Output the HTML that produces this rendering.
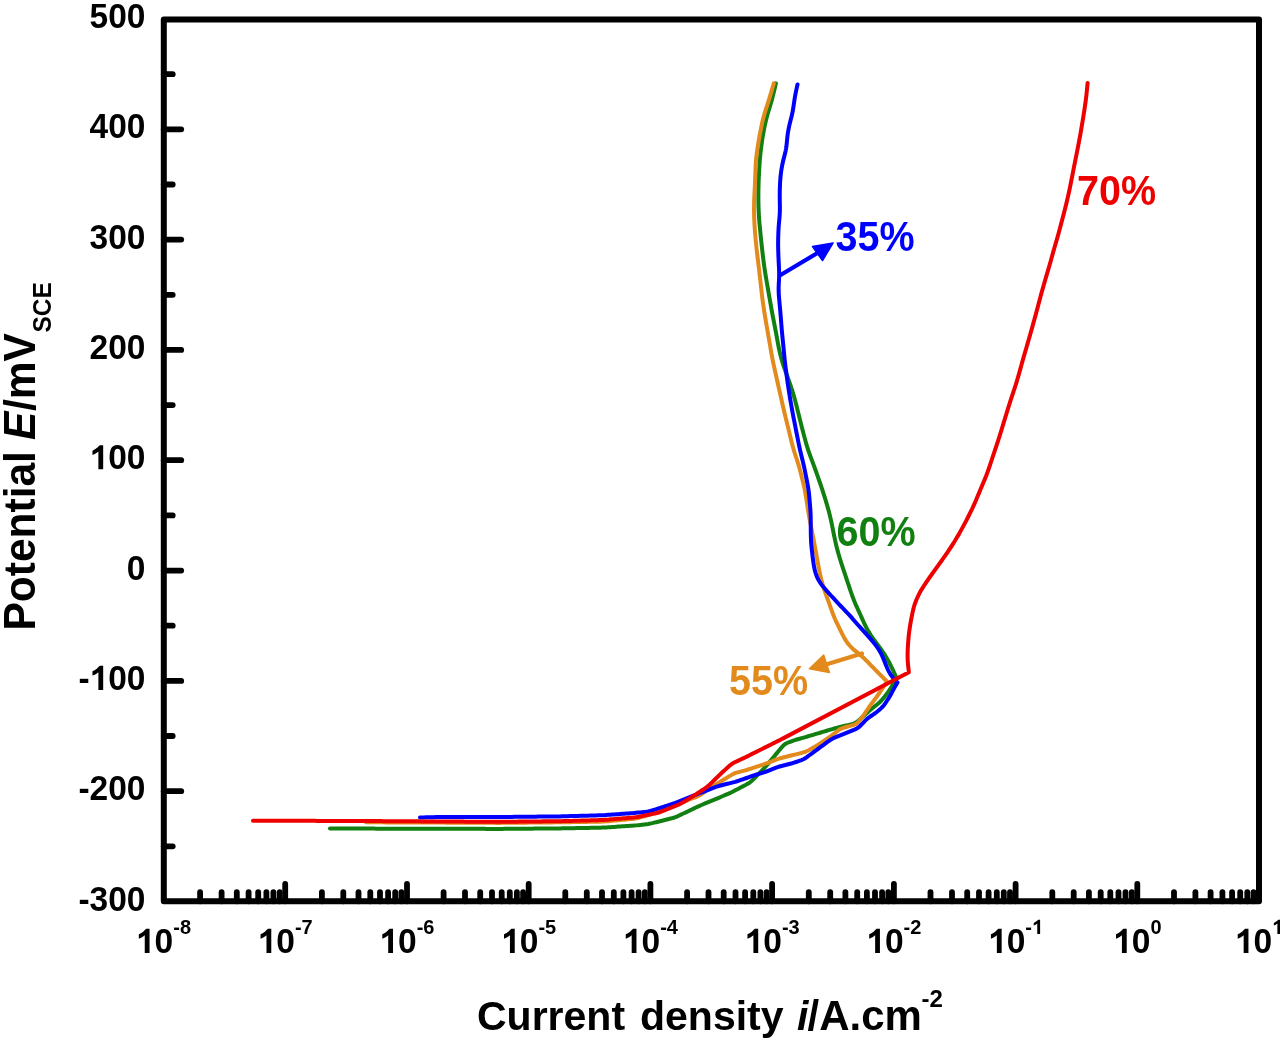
<!DOCTYPE html>
<html><head><meta charset="utf-8"><style>
html,body{margin:0;padding:0;background:#fff;}
svg{display:block;filter:blur(0.45px);}
text{font-family:"Liberation Sans",sans-serif;font-weight:bold;}
.tl{font-size:33.5px;fill:#000;}
.sup{font-size:20px;}
.ti{font-size:41px;fill:#000;}
.ti2{font-size:42.5px;fill:#000;}
.sup2{font-size:20px;}
.sub{font-size:24.5px;}
.cl{font-size:39.5px;}
</style></head><body>
<svg width="1280" height="1042" viewBox="0 0 1280 1042">
<rect width="1280" height="1042" fill="#fff"/>
<rect x="163.8" y="19.5" width="1095.2" height="881.8" fill="none" stroke="#000" stroke-width="6" stroke-linejoin="round"/>
<line x1="163.8" y1="846.3" x2="172.70000000000002" y2="846.3" stroke="#000" stroke-width="5.8" stroke-linecap="round"/>
<line x1="163.8" y1="791.2" x2="181.20000000000002" y2="791.2" stroke="#000" stroke-width="5.8" stroke-linecap="round"/>
<line x1="163.8" y1="736.0" x2="172.70000000000002" y2="736.0" stroke="#000" stroke-width="5.8" stroke-linecap="round"/>
<line x1="163.8" y1="680.9" x2="181.20000000000002" y2="680.9" stroke="#000" stroke-width="5.8" stroke-linecap="round"/>
<line x1="163.8" y1="625.7" x2="172.70000000000002" y2="625.7" stroke="#000" stroke-width="5.8" stroke-linecap="round"/>
<line x1="163.8" y1="570.6" x2="181.20000000000002" y2="570.6" stroke="#000" stroke-width="5.8" stroke-linecap="round"/>
<line x1="163.8" y1="515.4" x2="172.70000000000002" y2="515.4" stroke="#000" stroke-width="5.8" stroke-linecap="round"/>
<line x1="163.8" y1="460.2" x2="181.20000000000002" y2="460.2" stroke="#000" stroke-width="5.8" stroke-linecap="round"/>
<line x1="163.8" y1="405.1" x2="172.70000000000002" y2="405.1" stroke="#000" stroke-width="5.8" stroke-linecap="round"/>
<line x1="163.8" y1="349.9" x2="181.20000000000002" y2="349.9" stroke="#000" stroke-width="5.8" stroke-linecap="round"/>
<line x1="163.8" y1="294.8" x2="172.70000000000002" y2="294.8" stroke="#000" stroke-width="5.8" stroke-linecap="round"/>
<line x1="163.8" y1="239.6" x2="181.20000000000002" y2="239.6" stroke="#000" stroke-width="5.8" stroke-linecap="round"/>
<line x1="163.8" y1="184.5" x2="172.70000000000002" y2="184.5" stroke="#000" stroke-width="5.8" stroke-linecap="round"/>
<line x1="163.8" y1="129.3" x2="181.20000000000002" y2="129.3" stroke="#000" stroke-width="5.8" stroke-linecap="round"/>
<line x1="163.8" y1="74.2" x2="172.70000000000002" y2="74.2" stroke="#000" stroke-width="5.8" stroke-linecap="round"/>
<line x1="200.1" y1="901.3" x2="200.1" y2="892.1999999999999" stroke="#000" stroke-width="5.8" stroke-linecap="round"/>
<line x1="221.6" y1="901.3" x2="221.6" y2="892.1999999999999" stroke="#000" stroke-width="5.8" stroke-linecap="round"/>
<line x1="236.8" y1="901.3" x2="236.8" y2="892.1999999999999" stroke="#000" stroke-width="5.8" stroke-linecap="round"/>
<line x1="248.6" y1="901.3" x2="248.6" y2="892.1999999999999" stroke="#000" stroke-width="5.8" stroke-linecap="round"/>
<line x1="258.2" y1="901.3" x2="258.2" y2="892.1999999999999" stroke="#000" stroke-width="5.8" stroke-linecap="round"/>
<line x1="266.4" y1="901.3" x2="266.4" y2="892.1999999999999" stroke="#000" stroke-width="5.8" stroke-linecap="round"/>
<line x1="273.4" y1="901.3" x2="273.4" y2="892.1999999999999" stroke="#000" stroke-width="5.8" stroke-linecap="round"/>
<line x1="279.7" y1="901.3" x2="279.7" y2="892.1999999999999" stroke="#000" stroke-width="5.8" stroke-linecap="round"/>
<line x1="285.2" y1="901.3" x2="285.2" y2="883.9" stroke="#000" stroke-width="5.8" stroke-linecap="round"/>
<line x1="321.9" y1="901.3" x2="321.9" y2="892.1999999999999" stroke="#000" stroke-width="5.8" stroke-linecap="round"/>
<line x1="343.3" y1="901.3" x2="343.3" y2="892.1999999999999" stroke="#000" stroke-width="5.8" stroke-linecap="round"/>
<line x1="358.5" y1="901.3" x2="358.5" y2="892.1999999999999" stroke="#000" stroke-width="5.8" stroke-linecap="round"/>
<line x1="370.3" y1="901.3" x2="370.3" y2="892.1999999999999" stroke="#000" stroke-width="5.8" stroke-linecap="round"/>
<line x1="380.0" y1="901.3" x2="380.0" y2="892.1999999999999" stroke="#000" stroke-width="5.8" stroke-linecap="round"/>
<line x1="388.1" y1="901.3" x2="388.1" y2="892.1999999999999" stroke="#000" stroke-width="5.8" stroke-linecap="round"/>
<line x1="395.2" y1="901.3" x2="395.2" y2="892.1999999999999" stroke="#000" stroke-width="5.8" stroke-linecap="round"/>
<line x1="401.4" y1="901.3" x2="401.4" y2="892.1999999999999" stroke="#000" stroke-width="5.8" stroke-linecap="round"/>
<line x1="407.0" y1="901.3" x2="407.0" y2="883.9" stroke="#000" stroke-width="5.8" stroke-linecap="round"/>
<line x1="443.6" y1="901.3" x2="443.6" y2="892.1999999999999" stroke="#000" stroke-width="5.8" stroke-linecap="round"/>
<line x1="465.0" y1="901.3" x2="465.0" y2="892.1999999999999" stroke="#000" stroke-width="5.8" stroke-linecap="round"/>
<line x1="480.2" y1="901.3" x2="480.2" y2="892.1999999999999" stroke="#000" stroke-width="5.8" stroke-linecap="round"/>
<line x1="492.0" y1="901.3" x2="492.0" y2="892.1999999999999" stroke="#000" stroke-width="5.8" stroke-linecap="round"/>
<line x1="501.7" y1="901.3" x2="501.7" y2="892.1999999999999" stroke="#000" stroke-width="5.8" stroke-linecap="round"/>
<line x1="509.8" y1="901.3" x2="509.8" y2="892.1999999999999" stroke="#000" stroke-width="5.8" stroke-linecap="round"/>
<line x1="516.9" y1="901.3" x2="516.9" y2="892.1999999999999" stroke="#000" stroke-width="5.8" stroke-linecap="round"/>
<line x1="523.1" y1="901.3" x2="523.1" y2="892.1999999999999" stroke="#000" stroke-width="5.8" stroke-linecap="round"/>
<line x1="528.7" y1="901.3" x2="528.7" y2="883.9" stroke="#000" stroke-width="5.8" stroke-linecap="round"/>
<line x1="565.3" y1="901.3" x2="565.3" y2="892.1999999999999" stroke="#000" stroke-width="5.8" stroke-linecap="round"/>
<line x1="586.8" y1="901.3" x2="586.8" y2="892.1999999999999" stroke="#000" stroke-width="5.8" stroke-linecap="round"/>
<line x1="602.0" y1="901.3" x2="602.0" y2="892.1999999999999" stroke="#000" stroke-width="5.8" stroke-linecap="round"/>
<line x1="613.8" y1="901.3" x2="613.8" y2="892.1999999999999" stroke="#000" stroke-width="5.8" stroke-linecap="round"/>
<line x1="623.4" y1="901.3" x2="623.4" y2="892.1999999999999" stroke="#000" stroke-width="5.8" stroke-linecap="round"/>
<line x1="631.6" y1="901.3" x2="631.6" y2="892.1999999999999" stroke="#000" stroke-width="5.8" stroke-linecap="round"/>
<line x1="638.6" y1="901.3" x2="638.6" y2="892.1999999999999" stroke="#000" stroke-width="5.8" stroke-linecap="round"/>
<line x1="644.8" y1="901.3" x2="644.8" y2="892.1999999999999" stroke="#000" stroke-width="5.8" stroke-linecap="round"/>
<line x1="650.4" y1="901.3" x2="650.4" y2="883.9" stroke="#000" stroke-width="5.8" stroke-linecap="round"/>
<line x1="687.1" y1="901.3" x2="687.1" y2="892.1999999999999" stroke="#000" stroke-width="5.8" stroke-linecap="round"/>
<line x1="708.5" y1="901.3" x2="708.5" y2="892.1999999999999" stroke="#000" stroke-width="5.8" stroke-linecap="round"/>
<line x1="723.7" y1="901.3" x2="723.7" y2="892.1999999999999" stroke="#000" stroke-width="5.8" stroke-linecap="round"/>
<line x1="735.5" y1="901.3" x2="735.5" y2="892.1999999999999" stroke="#000" stroke-width="5.8" stroke-linecap="round"/>
<line x1="745.1" y1="901.3" x2="745.1" y2="892.1999999999999" stroke="#000" stroke-width="5.8" stroke-linecap="round"/>
<line x1="753.3" y1="901.3" x2="753.3" y2="892.1999999999999" stroke="#000" stroke-width="5.8" stroke-linecap="round"/>
<line x1="760.4" y1="901.3" x2="760.4" y2="892.1999999999999" stroke="#000" stroke-width="5.8" stroke-linecap="round"/>
<line x1="766.6" y1="901.3" x2="766.6" y2="892.1999999999999" stroke="#000" stroke-width="5.8" stroke-linecap="round"/>
<line x1="772.1" y1="901.3" x2="772.1" y2="883.9" stroke="#000" stroke-width="5.8" stroke-linecap="round"/>
<line x1="808.8" y1="901.3" x2="808.8" y2="892.1999999999999" stroke="#000" stroke-width="5.8" stroke-linecap="round"/>
<line x1="830.2" y1="901.3" x2="830.2" y2="892.1999999999999" stroke="#000" stroke-width="5.8" stroke-linecap="round"/>
<line x1="845.4" y1="901.3" x2="845.4" y2="892.1999999999999" stroke="#000" stroke-width="5.8" stroke-linecap="round"/>
<line x1="857.2" y1="901.3" x2="857.2" y2="892.1999999999999" stroke="#000" stroke-width="5.8" stroke-linecap="round"/>
<line x1="866.9" y1="901.3" x2="866.9" y2="892.1999999999999" stroke="#000" stroke-width="5.8" stroke-linecap="round"/>
<line x1="875.0" y1="901.3" x2="875.0" y2="892.1999999999999" stroke="#000" stroke-width="5.8" stroke-linecap="round"/>
<line x1="882.1" y1="901.3" x2="882.1" y2="892.1999999999999" stroke="#000" stroke-width="5.8" stroke-linecap="round"/>
<line x1="888.3" y1="901.3" x2="888.3" y2="892.1999999999999" stroke="#000" stroke-width="5.8" stroke-linecap="round"/>
<line x1="893.9" y1="901.3" x2="893.9" y2="883.9" stroke="#000" stroke-width="5.8" stroke-linecap="round"/>
<line x1="930.5" y1="901.3" x2="930.5" y2="892.1999999999999" stroke="#000" stroke-width="5.8" stroke-linecap="round"/>
<line x1="952.0" y1="901.3" x2="952.0" y2="892.1999999999999" stroke="#000" stroke-width="5.8" stroke-linecap="round"/>
<line x1="967.2" y1="901.3" x2="967.2" y2="892.1999999999999" stroke="#000" stroke-width="5.8" stroke-linecap="round"/>
<line x1="979.0" y1="901.3" x2="979.0" y2="892.1999999999999" stroke="#000" stroke-width="5.8" stroke-linecap="round"/>
<line x1="988.6" y1="901.3" x2="988.6" y2="892.1999999999999" stroke="#000" stroke-width="5.8" stroke-linecap="round"/>
<line x1="996.8" y1="901.3" x2="996.8" y2="892.1999999999999" stroke="#000" stroke-width="5.8" stroke-linecap="round"/>
<line x1="1003.8" y1="901.3" x2="1003.8" y2="892.1999999999999" stroke="#000" stroke-width="5.8" stroke-linecap="round"/>
<line x1="1010.0" y1="901.3" x2="1010.0" y2="892.1999999999999" stroke="#000" stroke-width="5.8" stroke-linecap="round"/>
<line x1="1015.6" y1="901.3" x2="1015.6" y2="883.9" stroke="#000" stroke-width="5.8" stroke-linecap="round"/>
<line x1="1052.3" y1="901.3" x2="1052.3" y2="892.1999999999999" stroke="#000" stroke-width="5.8" stroke-linecap="round"/>
<line x1="1073.7" y1="901.3" x2="1073.7" y2="892.1999999999999" stroke="#000" stroke-width="5.8" stroke-linecap="round"/>
<line x1="1088.9" y1="901.3" x2="1088.9" y2="892.1999999999999" stroke="#000" stroke-width="5.8" stroke-linecap="round"/>
<line x1="1100.7" y1="901.3" x2="1100.7" y2="892.1999999999999" stroke="#000" stroke-width="5.8" stroke-linecap="round"/>
<line x1="1110.3" y1="901.3" x2="1110.3" y2="892.1999999999999" stroke="#000" stroke-width="5.8" stroke-linecap="round"/>
<line x1="1118.5" y1="901.3" x2="1118.5" y2="892.1999999999999" stroke="#000" stroke-width="5.8" stroke-linecap="round"/>
<line x1="1125.5" y1="901.3" x2="1125.5" y2="892.1999999999999" stroke="#000" stroke-width="5.8" stroke-linecap="round"/>
<line x1="1131.8" y1="901.3" x2="1131.8" y2="892.1999999999999" stroke="#000" stroke-width="5.8" stroke-linecap="round"/>
<line x1="1137.3" y1="901.3" x2="1137.3" y2="883.9" stroke="#000" stroke-width="5.8" stroke-linecap="round"/>
<line x1="1174.0" y1="901.3" x2="1174.0" y2="892.1999999999999" stroke="#000" stroke-width="5.8" stroke-linecap="round"/>
<line x1="1195.4" y1="901.3" x2="1195.4" y2="892.1999999999999" stroke="#000" stroke-width="5.8" stroke-linecap="round"/>
<line x1="1210.6" y1="901.3" x2="1210.6" y2="892.1999999999999" stroke="#000" stroke-width="5.8" stroke-linecap="round"/>
<line x1="1222.4" y1="901.3" x2="1222.4" y2="892.1999999999999" stroke="#000" stroke-width="5.8" stroke-linecap="round"/>
<line x1="1232.1" y1="901.3" x2="1232.1" y2="892.1999999999999" stroke="#000" stroke-width="5.8" stroke-linecap="round"/>
<line x1="1240.2" y1="901.3" x2="1240.2" y2="892.1999999999999" stroke="#000" stroke-width="5.8" stroke-linecap="round"/>
<line x1="1247.3" y1="901.3" x2="1247.3" y2="892.1999999999999" stroke="#000" stroke-width="5.8" stroke-linecap="round"/>
<line x1="1253.5" y1="901.3" x2="1253.5" y2="892.1999999999999" stroke="#000" stroke-width="5.8" stroke-linecap="round"/>
<g transform="translate(0,910.50) scale(1,1.045)"><text x="78.45" y="0.00" style="font-size:33.5px" fill="#000">-300</text></g>
<g transform="translate(0,800.19) scale(1,1.045)"><text x="78.45" y="0.00" style="font-size:33.5px" fill="#000">-200</text></g>
<g transform="translate(0,689.88) scale(1,1.045)"><text x="78.45" y="0.00" style="font-size:33.5px" fill="#000">-</text><path d="M0.405,0 L0.262,0 L0.262,0.505 C0.215,0.462 0.155,0.43 0.085,0.408 L0.085,0.532 C0.125,0.547 0.17,0.572 0.214,0.607 C0.258,0.642 0.29,0.678 0.306,0.688 L0.405,0.688 Z" transform="translate(89.61,0.00) scale(33.5,-33.5)" fill="#000"/><text x="108.24" y="0.00" style="font-size:33.5px" fill="#000">00</text></g>
<g transform="translate(0,579.56) scale(1,1.045)"><text x="126.87" y="0.00" style="font-size:33.5px" fill="#000">0</text></g>
<g transform="translate(0,469.25) scale(1,1.045)"><path d="M0.405,0 L0.262,0 L0.262,0.505 C0.215,0.462 0.155,0.43 0.085,0.408 L0.085,0.532 C0.125,0.547 0.17,0.572 0.214,0.607 C0.258,0.642 0.29,0.678 0.306,0.688 L0.405,0.688 Z" transform="translate(89.61,0.00) scale(33.5,-33.5)" fill="#000"/><text x="108.24" y="0.00" style="font-size:33.5px" fill="#000">00</text></g>
<g transform="translate(0,358.94) scale(1,1.045)"><text x="89.61" y="0.00" style="font-size:33.5px" fill="#000">200</text></g>
<g transform="translate(0,248.62) scale(1,1.045)"><text x="89.61" y="0.00" style="font-size:33.5px" fill="#000">300</text></g>
<g transform="translate(0,138.31) scale(1,1.045)"><text x="89.61" y="0.00" style="font-size:33.5px" fill="#000">400</text></g>
<g transform="translate(0,28.00) scale(1,1.045)"><text x="89.61" y="0.00" style="font-size:33.5px" fill="#000">500</text></g>
<g transform="translate(0,953) scale(1,1.05)"><path d="M0.405,0 L0.262,0 L0.262,0.505 C0.215,0.462 0.155,0.43 0.085,0.408 L0.085,0.532 C0.125,0.547 0.17,0.572 0.214,0.607 C0.258,0.642 0.29,0.678 0.306,0.688 L0.405,0.688 Z" transform="translate(135.98,0.00) scale(33.5,-33.5)" fill="#000"/><text x="154.61" y="0.00" style="font-size:33.5px" fill="#000">0</text></g>
<g transform="translate(0,934) scale(1,1.04)"><text x="173.24" y="0.00" style="font-size:20px" fill="#000">-8</text></g>
<g transform="translate(0,953) scale(1,1.05)"><path d="M0.405,0 L0.262,0 L0.262,0.505 C0.215,0.462 0.155,0.43 0.085,0.408 L0.085,0.532 C0.125,0.547 0.17,0.572 0.214,0.607 C0.258,0.642 0.29,0.678 0.306,0.688 L0.405,0.688 Z" transform="translate(257.71,0.00) scale(33.5,-33.5)" fill="#000"/><text x="276.34" y="0.00" style="font-size:33.5px" fill="#000">0</text></g>
<g transform="translate(0,934) scale(1,1.04)"><text x="294.97" y="0.00" style="font-size:20px" fill="#000">-7</text></g>
<g transform="translate(0,953) scale(1,1.05)"><path d="M0.405,0 L0.262,0 L0.262,0.505 C0.215,0.462 0.155,0.43 0.085,0.408 L0.085,0.532 C0.125,0.547 0.17,0.572 0.214,0.607 C0.258,0.642 0.29,0.678 0.306,0.688 L0.405,0.688 Z" transform="translate(379.44,0.00) scale(33.5,-33.5)" fill="#000"/><text x="398.07" y="0.00" style="font-size:33.5px" fill="#000">0</text></g>
<g transform="translate(0,934) scale(1,1.04)"><text x="416.70" y="0.00" style="font-size:20px" fill="#000">-6</text></g>
<g transform="translate(0,953) scale(1,1.05)"><path d="M0.405,0 L0.262,0 L0.262,0.505 C0.215,0.462 0.155,0.43 0.085,0.408 L0.085,0.532 C0.125,0.547 0.17,0.572 0.214,0.607 C0.258,0.642 0.29,0.678 0.306,0.688 L0.405,0.688 Z" transform="translate(501.17,0.00) scale(33.5,-33.5)" fill="#000"/><text x="519.80" y="0.00" style="font-size:33.5px" fill="#000">0</text></g>
<g transform="translate(0,934) scale(1,1.04)"><text x="538.43" y="0.00" style="font-size:20px" fill="#000">-5</text></g>
<g transform="translate(0,953) scale(1,1.05)"><path d="M0.405,0 L0.262,0 L0.262,0.505 C0.215,0.462 0.155,0.43 0.085,0.408 L0.085,0.532 C0.125,0.547 0.17,0.572 0.214,0.607 C0.258,0.642 0.29,0.678 0.306,0.688 L0.405,0.688 Z" transform="translate(622.90,0.00) scale(33.5,-33.5)" fill="#000"/><text x="641.53" y="0.00" style="font-size:33.5px" fill="#000">0</text></g>
<g transform="translate(0,934) scale(1,1.04)"><text x="660.16" y="0.00" style="font-size:20px" fill="#000">-4</text></g>
<g transform="translate(0,953) scale(1,1.05)"><path d="M0.405,0 L0.262,0 L0.262,0.505 C0.215,0.462 0.155,0.43 0.085,0.408 L0.085,0.532 C0.125,0.547 0.17,0.572 0.214,0.607 C0.258,0.642 0.29,0.678 0.306,0.688 L0.405,0.688 Z" transform="translate(744.63,0.00) scale(33.5,-33.5)" fill="#000"/><text x="763.26" y="0.00" style="font-size:33.5px" fill="#000">0</text></g>
<g transform="translate(0,934) scale(1,1.04)"><text x="781.89" y="0.00" style="font-size:20px" fill="#000">-3</text></g>
<g transform="translate(0,953) scale(1,1.05)"><path d="M0.405,0 L0.262,0 L0.262,0.505 C0.215,0.462 0.155,0.43 0.085,0.408 L0.085,0.532 C0.125,0.547 0.17,0.572 0.214,0.607 C0.258,0.642 0.29,0.678 0.306,0.688 L0.405,0.688 Z" transform="translate(866.36,0.00) scale(33.5,-33.5)" fill="#000"/><text x="884.99" y="0.00" style="font-size:33.5px" fill="#000">0</text></g>
<g transform="translate(0,934) scale(1,1.04)"><text x="903.62" y="0.00" style="font-size:20px" fill="#000">-2</text></g>
<g transform="translate(0,953) scale(1,1.05)"><path d="M0.405,0 L0.262,0 L0.262,0.505 C0.215,0.462 0.155,0.43 0.085,0.408 L0.085,0.532 C0.125,0.547 0.17,0.572 0.214,0.607 C0.258,0.642 0.29,0.678 0.306,0.688 L0.405,0.688 Z" transform="translate(988.09,0.00) scale(33.5,-33.5)" fill="#000"/><text x="1006.72" y="0.00" style="font-size:33.5px" fill="#000">0</text></g>
<g transform="translate(0,934) scale(1,1.04)"><text x="1025.35" y="0.00" style="font-size:20px" fill="#000">-</text><path d="M0.405,0 L0.262,0 L0.262,0.505 C0.215,0.462 0.155,0.43 0.085,0.408 L0.085,0.532 C0.125,0.547 0.17,0.572 0.214,0.607 C0.258,0.642 0.29,0.678 0.306,0.688 L0.405,0.688 Z" transform="translate(1032.01,0.00) scale(20,-20)" fill="#000"/></g>
<g transform="translate(0,953) scale(1,1.05)"><path d="M0.405,0 L0.262,0 L0.262,0.505 C0.215,0.462 0.155,0.43 0.085,0.408 L0.085,0.532 C0.125,0.547 0.17,0.572 0.214,0.607 C0.258,0.642 0.29,0.678 0.306,0.688 L0.405,0.688 Z" transform="translate(1113.15,0.00) scale(33.5,-33.5)" fill="#000"/><text x="1131.78" y="0.00" style="font-size:33.5px" fill="#000">0</text></g>
<g transform="translate(0,934) scale(1,1.04)"><text x="1150.41" y="0.00" style="font-size:20px" fill="#000">0</text></g>
<g transform="translate(0,953) scale(1,1.05)"><path d="M0.405,0 L0.262,0 L0.262,0.505 C0.215,0.462 0.155,0.43 0.085,0.408 L0.085,0.532 C0.125,0.547 0.17,0.572 0.214,0.607 C0.258,0.642 0.29,0.678 0.306,0.688 L0.405,0.688 Z" transform="translate(1234.88,0.00) scale(33.5,-33.5)" fill="#000"/><text x="1253.51" y="0.00" style="font-size:33.5px" fill="#000">0</text></g>
<g transform="translate(0,934) scale(1,1.04)"><path d="M0.405,0 L0.262,0 L0.262,0.505 C0.215,0.462 0.155,0.43 0.085,0.408 L0.085,0.532 C0.125,0.547 0.17,0.572 0.214,0.607 C0.258,0.642 0.29,0.678 0.306,0.688 L0.405,0.688 Z" transform="translate(1272.14,0.00) scale(20,-20)" fill="#000"/></g>
<text y="1030" class="ti"><tspan x="477">Current</tspan><tspan x="640">density</tspan><tspan x="797" font-style="italic">i</tspan><tspan x="807.5" style="font-size:42px">/A.cm</tspan></text>
<text x="921.5" y="1007" style="font-size:24px">-2</text>
<text transform="translate(34.5,630.5) rotate(-90) scale(1,1.045)" class="ti2"><tspan x="0">Potential</tspan><tspan x="190.5" font-style="italic">E</tspan><tspan x="219.5">/mV</tspan><tspan x="298" dy="15.8" class="sub">SCE</tspan></text>
<path d="M330.00,828.50 L332.00,828.51 334.01,828.51 336.01,828.52 338.01,828.52 340.02,828.53 342.02,828.53 344.02,828.54 346.02,828.54 348.03,828.55 350.03,828.55 352.03,828.56 354.04,828.57 356.04,828.57 358.04,828.58 360.05,828.58 362.05,828.59 364.05,828.59 366.05,828.60 368.06,828.60 370.06,828.61 372.06,828.61 374.07,828.62 376.07,828.63 378.07,828.63 380.08,828.64 382.08,828.64 384.08,828.65 386.08,828.65 388.09,828.66 390.09,828.66 392.09,828.67 394.10,828.67 396.10,828.68 398.10,828.69 400.11,828.69 402.11,828.70 404.11,828.70 406.11,828.71 408.12,828.71 410.12,828.72 412.12,828.72 414.13,828.73 416.13,828.73 418.13,828.74 420.14,828.75 422.14,828.75 424.14,828.76 426.14,828.76 428.15,828.77 430.15,828.77 432.15,828.78 434.16,828.78 436.16,828.79 438.16,828.79 440.17,828.80 442.17,828.80 444.17,828.81 446.17,828.81 448.18,828.81 450.18,828.82 452.18,828.82 454.19,828.82 456.19,828.83 458.19,828.83 460.20,828.83 462.20,828.84 464.20,828.84 466.20,828.84 468.21,828.85 470.21,828.85 472.21,828.85 474.22,828.86 476.22,828.86 478.22,828.86 480.23,828.87 482.23,828.87 484.23,828.87 486.23,828.88 488.24,828.88 490.24,828.88 492.24,828.89 494.25,828.89 496.25,828.89 498.25,828.89 500.26,828.89 502.26,828.88 504.26,828.86 506.26,828.85 508.27,828.83 510.27,828.81 512.27,828.80 514.28,828.78 516.28,828.76 518.28,828.75 520.29,828.73 522.29,828.71 524.29,828.70 526.29,828.68 528.30,828.66 530.30,828.65 532.30,828.63 534.31,828.61 536.31,828.60 538.31,828.58 540.31,828.56 542.32,828.55 544.32,828.53 546.32,828.51 548.33,828.50 550.33,828.48 552.33,828.46 554.34,828.45 556.34,828.43 558.34,828.41 560.34,828.39 562.35,828.35 564.35,828.32 566.35,828.28 568.36,828.25 570.36,828.21 572.36,828.17 574.36,828.14 576.37,828.10 578.37,828.06 580.37,828.03 582.37,827.99 584.38,827.95 586.38,827.92 588.38,827.88 590.38,827.84 592.39,827.81 594.39,827.77 596.39,827.73 598.40,827.70 600.40,827.66 602.40,827.60 604.40,827.52 606.40,827.41 608.40,827.29 610.40,827.15 612.40,827.02 614.39,826.89 616.39,826.75 618.39,826.62 620.39,826.49 622.39,826.35 624.39,826.22 626.39,826.08 628.38,825.95 630.38,825.82 632.38,825.68 634.38,825.53 636.37,825.37 638.37,825.16 640.36,824.93 642.34,824.69 644.33,824.45 646.32,824.19 648.30,823.91 650.27,823.57 652.22,823.15 654.17,822.68 656.11,822.19 658.05,821.70 660.00,821.21 661.94,820.73 663.88,820.25 665.83,819.77 667.77,819.28 669.72,818.80 671.66,818.31 673.58,817.76 675.46,817.12 677.31,816.36 679.13,815.53 680.94,814.67 682.75,813.81 684.56,812.95 686.36,812.09 688.17,811.23 689.98,810.37 691.79,809.51 693.60,808.65 695.41,807.79 697.22,806.93 699.03,806.09 700.86,805.27 702.70,804.47 704.54,803.69 706.39,802.92 708.24,802.15 710.09,801.37 711.94,800.61 713.79,799.84 715.64,799.07 717.49,798.30 719.34,797.53 721.19,796.76 723.04,795.99 724.89,795.22 726.73,794.45 728.57,793.66 730.39,792.82 732.18,791.94 733.97,791.03 735.74,790.10 737.52,789.17 739.29,788.25 741.07,787.32 742.85,786.39 744.62,785.46 746.39,784.53 748.13,783.56 749.80,782.48 751.35,781.25 752.80,779.89 754.21,778.48 755.61,777.04 757.01,775.61 758.41,774.17 759.80,772.74 761.20,771.30 762.59,769.86 763.97,768.41 765.31,766.93 766.62,765.41 767.91,763.88 769.19,762.34 770.47,760.79 771.75,759.25 773.03,757.72 774.31,756.18 775.60,754.64 776.89,753.11 778.17,751.57 779.45,750.03 780.72,748.48 782.01,746.96 783.36,745.52 784.85,744.28 786.53,743.29 788.33,742.49 790.20,741.77 792.07,741.08 793.96,740.41 795.86,739.79 797.78,739.23 799.71,738.70 801.65,738.17 803.58,737.65 805.51,737.10 807.43,736.54 809.35,735.96 811.26,735.38 813.18,734.79 815.09,734.20 817.01,733.62 818.93,733.04 820.85,732.47 822.77,731.90 824.69,731.33 826.61,730.76 828.53,730.19 830.45,729.63 832.38,729.08 834.31,728.54 836.24,728.02 838.17,727.50 840.11,726.99 842.05,726.48 843.99,726.00 845.94,725.54 847.89,725.10 849.85,724.66 851.79,724.19 853.68,723.63 855.45,722.85 857.08,721.79 858.61,720.53 860.10,719.20 861.58,717.85 863.06,716.50 864.54,715.15 866.02,713.80 867.50,712.46 869.00,711.12 870.51,709.81 872.05,708.54 873.61,707.28 875.18,706.03 876.75,704.79 878.29,703.52 879.78,702.19 881.17,700.76 882.47,699.25 883.73,697.70 884.97,696.13 886.21,694.55 887.42,692.96 888.59,691.34 889.69,689.67 890.77,687.98 891.82,686.28 892.86,684.57 893.87,682.84 894.85,681.09 895.79,679.33 896.50,678.00 L895.69,676.17 894.88,674.34 894.06,672.51 893.23,670.69 892.38,668.88 891.51,667.08 890.62,665.28 889.71,663.51 888.77,661.74 887.81,659.99 886.81,658.25 885.79,656.53 884.74,654.84 883.66,653.16 882.55,651.50 881.41,649.86 880.24,648.23 879.06,646.62 877.87,645.01 876.67,643.41 875.47,641.81 874.29,640.19 873.13,638.57 871.99,636.93 870.87,635.27 869.80,633.59 868.76,631.89 867.75,630.16 866.79,628.42 865.86,626.65 864.97,624.86 864.11,623.06 863.28,621.25 862.46,619.42 861.65,617.60 860.83,615.77 860.01,613.95 859.18,612.13 858.34,610.32 857.50,608.51 856.67,606.69 855.86,604.87 855.07,603.03 854.31,601.19 853.57,599.33 852.87,597.46 852.18,595.58 851.52,593.69 850.86,591.80 850.22,589.91 849.58,588.01 848.94,586.11 848.31,584.21 847.67,582.31 847.04,580.41 846.40,578.51 845.77,576.61 845.14,574.71 844.51,572.81 843.88,570.91 843.25,569.01 842.62,567.10 842.00,565.20 841.38,563.30 840.77,561.39 840.17,559.48 839.58,557.57 839.01,555.65 838.45,553.72 837.91,551.80 837.39,549.86 836.89,547.93 836.40,545.98 835.94,544.04 835.49,542.09 835.06,540.13 834.64,538.18 834.23,536.22 833.83,534.25 833.44,532.29 833.05,530.33 832.65,528.36 832.26,526.40 831.86,524.44 831.45,522.48 831.03,520.52 830.59,518.57 830.14,516.62 829.67,514.67 829.18,512.73 828.67,510.80 828.14,508.87 827.60,506.94 827.04,505.02 826.48,503.09 825.90,501.18 825.32,499.26 824.73,497.35 824.13,495.43 823.53,493.53 822.92,491.62 822.29,489.72 821.66,487.81 821.03,485.92 820.38,484.02 819.73,482.13 819.07,480.23 818.41,478.34 817.75,476.45 817.09,474.56 816.42,472.67 815.75,470.79 815.07,468.90 814.39,467.02 813.70,465.14 813.01,463.26 812.31,461.38 811.61,459.51 810.91,457.63 810.21,455.75 809.53,453.87 808.87,451.99 808.22,450.09 807.60,448.19 807.01,446.28 806.43,444.37 805.88,442.45 805.34,440.52 804.82,438.59 804.30,436.65 803.79,434.71 803.28,432.78 802.78,430.84 802.29,428.90 801.79,426.96 801.30,425.01 800.81,423.07 800.32,421.13 799.84,419.19 799.35,417.24 798.87,415.30 798.39,413.36 797.90,411.41 797.42,409.47 796.93,407.53 796.44,405.58 795.95,403.64 795.44,401.71 794.93,399.77 794.40,397.84 793.86,395.91 793.29,394.00 792.71,392.08 792.10,390.17 791.48,388.27 790.85,386.37 790.20,384.48 789.55,382.58 788.88,380.70 788.21,378.81 787.54,376.92 786.86,375.04 786.17,373.16 785.49,371.27 784.82,369.39 784.16,367.50 783.51,365.61 782.89,363.71 782.30,361.80 781.73,359.88 781.20,357.96 780.69,356.02 780.21,354.08 779.75,352.13 779.32,350.18 778.91,348.22 778.51,346.26 778.13,344.29 777.76,342.33 777.40,340.36 777.04,338.39 776.68,336.42 776.31,334.45 775.95,332.48 775.58,330.51 775.20,328.54 774.82,326.58 774.44,324.61 774.05,322.65 773.67,320.68 773.28,318.71 772.90,316.75 772.53,314.78 772.16,312.81 771.80,310.84 771.44,308.87 771.09,306.90 770.74,304.93 770.39,302.96 770.05,300.98 769.70,299.01 769.36,297.04 769.01,295.06 768.67,293.09 768.33,291.12 767.99,289.14 767.64,287.17 767.30,285.20 766.96,283.22 766.62,281.25 766.28,279.27 765.95,277.30 765.62,275.32 765.30,273.35 764.99,271.37 764.69,269.39 764.41,267.41 764.13,265.42 763.86,263.44 763.61,261.45 763.35,259.47 763.11,257.48 762.86,255.49 762.63,253.50 762.39,251.51 762.16,249.52 761.94,247.53 761.72,245.54 761.51,243.55 761.30,241.56 761.09,239.57 760.89,237.57 760.68,235.58 760.48,233.59 760.28,231.60 760.08,229.60 759.89,227.61 759.70,225.62 759.51,223.62 759.34,221.63 759.18,219.63 759.04,217.64 758.91,215.64 758.80,213.64 758.70,211.64 758.62,209.64 758.55,207.64 758.49,205.64 758.45,203.64 758.41,201.63 758.39,199.63 758.38,197.63 758.37,195.63 758.38,193.62 758.40,191.62 758.42,189.62 758.46,187.62 758.50,185.61 758.56,183.61 758.63,181.61 758.71,179.61 758.79,177.61 758.89,175.61 758.98,173.61 759.09,171.61 759.20,169.61 759.31,167.61 759.43,165.61 759.57,163.61 759.71,161.62 759.88,159.62 760.05,157.63 760.24,155.63 760.45,153.64 760.66,151.65 760.89,149.66 761.13,147.68 761.38,145.69 761.64,143.70 761.92,141.72 762.21,139.74 762.52,137.76 762.85,135.79 763.19,133.82 763.55,131.85 763.92,129.88 764.31,127.92 764.71,125.96 765.13,124.00 765.57,122.05 766.03,120.10 766.51,118.16 767.03,116.23 767.57,114.31 768.13,112.39 768.70,110.47 769.29,108.56 769.88,106.65 770.46,104.73 771.02,102.81 771.57,100.89 772.10,98.96 772.61,97.03 773.11,95.09 773.59,93.14 774.06,91.20 774.53,89.25 774.99,87.30 775.44,85.35 775.90,83.40 775.90,83.40" fill="none" stroke="#118011" stroke-width="4.0" stroke-linejoin="round" stroke-linecap="round"/>
<path d="M366.00,822.30 L368.00,822.31 370.01,822.32 372.01,822.32 374.01,822.33 376.01,822.34 378.02,822.35 380.02,822.36 382.02,822.36 384.03,822.37 386.03,822.38 388.03,822.39 390.04,822.40 392.04,822.41 394.04,822.41 396.04,822.42 398.05,822.43 400.05,822.44 402.05,822.45 404.06,822.45 406.06,822.46 408.06,822.47 410.07,822.48 412.07,822.49 414.07,822.49 416.07,822.50 418.08,822.51 420.08,822.52 422.08,822.53 424.09,822.54 426.09,822.54 428.09,822.55 430.10,822.56 432.10,822.57 434.10,822.58 436.10,822.58 438.11,822.59 440.11,822.60 442.11,822.61 444.12,822.62 446.12,822.63 448.12,822.64 450.13,822.65 452.13,822.66 454.13,822.67 456.13,822.68 458.14,822.69 460.14,822.70 462.14,822.71 464.15,822.72 466.15,822.73 468.15,822.74 470.16,822.75 472.16,822.76 474.16,822.77 476.16,822.78 478.17,822.79 480.17,822.80 482.17,822.81 484.18,822.82 486.18,822.83 488.18,822.84 490.19,822.85 492.19,822.86 494.19,822.87 496.19,822.88 498.20,822.89 500.20,822.88 502.20,822.87 504.21,822.86 506.21,822.84 508.21,822.82 510.21,822.80 512.22,822.78 514.22,822.76 516.22,822.74 518.23,822.72 520.23,822.70 522.23,822.68 524.24,822.66 526.24,822.64 528.24,822.62 530.24,822.60 532.25,822.58 534.25,822.56 536.25,822.54 538.26,822.52 540.26,822.50 542.26,822.48 544.26,822.46 546.27,822.44 548.27,822.42 550.27,822.40 552.28,822.38 554.28,822.36 556.28,822.34 558.28,822.31 560.29,822.29 562.29,822.26 564.29,822.23 566.30,822.20 568.30,822.17 570.30,822.14 572.30,822.10 574.31,822.07 576.31,822.04 578.31,822.01 580.32,821.97 582.32,821.94 584.32,821.91 586.32,821.88 588.33,821.85 590.33,821.81 592.33,821.78 594.33,821.75 596.34,821.72 598.34,821.69 600.34,821.65 602.34,821.59 604.34,821.49 606.34,821.34 608.33,821.17 610.33,820.98 612.32,820.79 614.32,820.60 616.31,820.41 618.30,820.23 620.30,820.04 622.29,819.85 624.29,819.66 626.28,819.47 628.28,819.29 630.27,819.10 632.26,818.90 634.25,818.68 636.22,818.37 638.17,817.95 640.10,817.44 642.02,816.88 643.94,816.31 645.86,815.73 647.78,815.15 649.68,814.53 651.57,813.87 653.45,813.18 655.32,812.48 657.20,811.77 659.07,811.05 660.94,810.34 662.81,809.63 664.69,808.92 666.56,808.21 668.43,807.50 670.30,806.78 672.18,806.07 674.05,805.36 675.92,804.65 677.79,803.94 679.67,803.23 681.54,802.52 683.41,801.80 685.28,801.09 687.16,800.38 689.03,799.67 690.90,798.96 692.77,798.25 694.64,797.53 696.51,796.80 698.34,796.02 700.09,795.10 701.76,794.02 703.36,792.83 704.94,791.61 706.53,790.39 708.15,789.22 709.81,788.11 711.51,787.05 713.22,786.01 714.94,784.98 716.65,783.94 718.37,782.91 720.08,781.87 721.80,780.84 723.51,779.79 725.21,778.75 726.92,777.70 728.63,776.65 730.34,775.61 732.06,774.60 733.82,773.69 735.66,772.94 737.55,772.35 739.49,771.83 741.43,771.34 743.37,770.84 745.30,770.31 747.22,769.75 749.13,769.15 751.03,768.53 752.94,767.92 754.85,767.30 756.75,766.68 758.66,766.06 760.56,765.44 762.46,764.81 764.36,764.16 766.24,763.48 768.11,762.76 769.97,762.03 771.84,761.30 773.70,760.56 775.57,759.84 777.44,759.15 779.35,758.54 781.27,758.00 783.21,757.49 785.15,757.00 787.09,756.51 789.04,756.02 790.98,755.54 792.92,755.05 794.87,754.57 796.81,754.09 798.76,753.61 800.70,753.13 802.63,752.61 804.53,752.02 806.38,751.29 808.18,750.43 809.95,749.51 811.72,748.56 813.47,747.60 815.21,746.60 816.92,745.56 818.60,744.47 820.27,743.37 821.94,742.26 823.60,741.15 825.26,740.02 826.90,738.88 828.54,737.72 830.17,736.56 831.79,735.39 833.41,734.20 835.00,732.99 836.56,731.74 838.12,730.50 839.74,729.40 841.49,728.52 843.34,727.84 845.25,727.26 847.18,726.72 849.11,726.18 851.04,725.64 852.95,725.07 854.80,724.41 856.49,723.52 857.97,722.31 859.28,720.86 860.52,719.30 861.73,717.71 862.93,716.10 864.10,714.48 865.23,712.83 866.34,711.16 867.45,709.49 868.57,707.83 869.70,706.18 870.86,704.55 872.05,702.94 873.27,701.35 874.49,699.76 875.70,698.16 876.88,696.55 878.03,694.91 879.16,693.25 880.27,691.59 881.39,689.93 882.52,688.27 883.65,686.62 884.80,684.98 885.95,683.34 887.10,681.70 887.10,681.70 L885.69,680.28 884.28,678.85 882.88,677.43 881.47,676.01 880.06,674.59 878.65,673.16 877.24,671.74 875.83,670.32 874.42,668.90 873.02,667.47 871.63,666.03 870.24,664.60 868.85,663.16 867.46,661.72 866.06,660.30 864.64,658.90 863.20,657.53 861.72,656.20 860.21,654.92 858.67,653.66 857.12,652.42 855.58,651.17 854.06,649.90 852.59,648.58 851.17,647.20 849.83,645.76 848.56,644.25 847.36,642.68 846.24,641.06 845.18,639.38 844.18,637.66 843.23,635.91 842.32,634.14 841.44,632.35 840.56,630.56 839.68,628.76 838.79,626.97 837.91,625.18 837.03,623.39 836.17,621.58 835.34,619.77 834.54,617.94 833.79,616.10 833.06,614.23 832.37,612.36 831.69,610.48 831.02,608.60 830.35,606.71 829.68,604.83 829.00,602.94 828.31,601.06 827.62,599.18 826.94,597.30 826.26,595.42 825.59,593.53 824.94,591.64 824.30,589.75 823.68,587.84 823.09,585.94 822.52,584.02 821.98,582.09 821.47,580.16 821.00,578.22 820.55,576.27 820.12,574.32 819.71,572.36 819.31,570.40 818.92,568.44 818.54,566.47 818.17,564.51 817.80,562.54 817.44,560.57 817.08,558.60 816.73,556.63 816.38,554.66 816.03,552.69 815.67,550.72 815.32,548.75 814.95,546.78 814.58,544.81 814.21,542.84 813.83,540.88 813.45,538.91 813.06,536.95 812.68,534.98 812.29,533.02 811.91,531.06 811.52,529.09 811.14,527.13 810.75,525.16 810.37,523.20 810.00,521.23 809.63,519.26 809.27,517.29 808.92,515.32 808.58,513.35 808.25,511.38 807.93,509.40 807.63,507.42 807.32,505.44 807.02,503.47 806.72,501.49 806.41,499.51 806.10,497.53 805.78,495.56 805.44,493.58 805.08,491.62 804.70,489.66 804.29,487.70 803.86,485.74 803.41,483.80 802.94,481.85 802.47,479.91 801.99,477.96 801.50,476.02 801.01,474.08 800.51,472.14 800.00,470.21 799.47,468.28 798.93,466.35 798.37,464.43 797.78,462.52 797.17,460.61 796.56,458.71 795.93,456.81 795.31,454.91 794.70,453.01 794.10,451.10 793.53,449.18 792.98,447.26 792.45,445.33 791.95,443.39 791.46,441.45 790.98,439.51 790.51,437.56 790.04,435.62 789.58,433.67 789.11,431.72 788.64,429.78 788.17,427.83 787.69,425.89 787.21,423.95 786.73,422.00 786.26,420.06 785.78,418.11 785.30,416.17 784.83,414.22 784.37,412.28 783.91,410.33 783.45,408.38 783.00,406.43 782.56,404.48 782.11,402.52 781.67,400.57 781.23,398.62 780.79,396.67 780.35,394.71 779.90,392.76 779.46,390.81 779.02,388.86 778.58,386.90 778.14,384.95 777.70,383.00 777.26,381.04 776.82,379.09 776.39,377.14 775.96,375.18 775.52,373.23 775.09,371.27 774.66,369.32 774.22,367.37 773.79,365.41 773.37,363.45 772.96,361.50 772.57,359.53 772.19,357.57 771.82,355.60 771.47,353.63 771.13,351.66 770.79,349.69 770.45,347.71 770.11,345.74 769.77,343.77 769.43,341.80 769.09,339.82 768.75,337.85 768.41,335.88 768.07,333.91 767.72,331.93 767.38,329.96 767.04,327.99 766.70,326.02 766.36,324.04 766.02,322.07 765.68,320.10 765.35,318.12 765.02,316.15 764.70,314.17 764.38,312.20 764.07,310.22 763.77,308.24 763.47,306.26 763.17,304.28 762.89,302.30 762.61,300.32 762.34,298.33 762.09,296.35 761.85,294.36 761.62,292.37 761.40,290.38 761.18,288.39 760.96,286.40 760.75,284.41 760.54,282.42 760.32,280.43 760.10,278.44 759.87,276.45 759.64,274.47 759.41,272.48 759.18,270.49 758.94,268.50 758.70,266.51 758.46,264.53 758.22,262.54 757.97,260.55 757.73,258.57 757.49,256.58 757.25,254.59 757.02,252.60 756.79,250.61 756.57,248.62 756.36,246.63 756.15,244.64 755.95,242.65 755.76,240.66 755.58,238.66 755.40,236.67 755.23,234.68 755.07,232.68 754.91,230.69 754.77,228.69 754.64,226.69 754.51,224.69 754.40,222.70 754.30,220.70 754.21,218.70 754.14,216.70 754.09,214.70 754.05,212.70 754.04,210.70 754.03,208.70 754.04,206.69 754.06,204.69 754.10,202.69 754.16,200.69 754.23,198.69 754.32,196.69 754.42,194.70 754.52,192.70 754.63,190.70 754.74,188.70 754.84,186.70 754.93,184.70 755.02,182.70 755.10,180.70 755.18,178.70 755.25,176.70 755.32,174.70 755.38,172.70 755.45,170.70 755.53,168.70 755.61,166.70 755.71,164.70 755.83,162.71 755.98,160.71 756.16,158.72 756.37,156.73 756.61,154.75 756.87,152.77 757.14,150.79 757.43,148.81 757.73,146.83 758.04,144.85 758.36,142.87 758.68,140.90 759.02,138.92 759.36,136.95 759.72,134.98 760.09,133.02 760.47,131.05 760.86,129.09 761.25,127.13 761.65,125.17 762.07,123.21 762.51,121.26 762.97,119.31 763.47,117.38 763.99,115.45 764.55,113.53 765.14,111.62 765.74,109.71 766.35,107.81 766.97,105.90 767.58,104.00 768.19,102.09 768.79,100.18 769.38,98.27 769.96,96.36 770.54,94.44 771.11,92.52 771.68,90.60 772.24,88.68 772.81,86.76 773.38,84.84 773.80,83.40" fill="none" stroke="#e38a1c" stroke-width="4.0" stroke-linejoin="round" stroke-linecap="round"/>
<path d="M420.00,817.50 L422.00,817.45 424.00,817.40 426.01,817.35 428.01,817.30 430.01,817.25 432.01,817.20 434.01,817.15 436.02,817.10 438.02,817.06 440.02,817.02 442.02,817.01 444.02,817.00 446.03,817.00 448.03,817.00 450.03,817.00 452.03,817.00 454.04,817.00 456.04,817.00 458.04,817.00 460.04,817.00 462.05,817.00 464.05,817.00 466.05,817.00 468.05,817.00 470.06,817.00 472.06,817.00 474.06,817.00 476.06,817.00 478.07,817.00 480.07,817.00 482.07,817.00 484.08,817.00 486.08,817.00 488.08,817.00 490.08,817.00 492.09,817.00 494.09,817.00 496.09,817.00 498.09,817.00 500.10,816.99 502.10,816.98 504.10,816.96 506.10,816.94 508.11,816.92 510.11,816.90 512.11,816.88 514.11,816.86 516.11,816.84 518.12,816.82 520.12,816.80 522.12,816.78 524.12,816.76 526.13,816.74 528.13,816.72 530.13,816.70 532.13,816.68 534.14,816.66 536.14,816.64 538.14,816.62 540.14,816.60 542.15,816.58 544.15,816.56 546.15,816.54 548.15,816.52 550.16,816.50 552.16,816.48 554.16,816.46 556.16,816.44 558.17,816.41 560.17,816.38 562.17,816.34 564.17,816.28 566.17,816.23 568.18,816.18 570.18,816.12 572.18,816.07 574.18,816.01 576.18,815.96 578.18,815.90 580.19,815.85 582.19,815.79 584.19,815.74 586.19,815.68 588.19,815.63 590.20,815.57 592.20,815.52 594.20,815.46 596.20,815.41 598.20,815.35 600.20,815.29 602.21,815.22 604.21,815.13 606.20,815.01 608.20,814.87 610.20,814.73 612.20,814.58 614.19,814.44 616.19,814.29 618.19,814.15 620.18,814.00 622.18,813.85 624.18,813.71 626.18,813.56 628.17,813.42 630.17,813.27 632.17,813.12 634.16,812.97 636.16,812.80 638.15,812.60 640.14,812.39 642.13,812.16 644.12,811.93 646.11,811.69 648.09,811.40 650.04,811.03 651.97,810.52 653.88,809.92 655.77,809.29 657.67,808.66 659.58,808.03 661.48,807.42 663.39,806.81 665.30,806.20 667.20,805.59 669.11,804.98 671.02,804.37 672.92,803.74 674.81,803.09 676.69,802.40 678.56,801.67 680.42,800.93 682.28,800.19 684.14,799.45 685.99,798.70 687.85,797.96 689.71,797.21 691.57,796.47 693.43,795.73 695.29,794.98 697.15,794.24 699.01,793.50 700.87,792.76 702.74,792.03 704.60,791.30 706.47,790.57 708.33,789.84 710.20,789.11 712.06,788.38 713.93,787.66 715.80,786.96 717.70,786.32 719.62,785.76 721.55,785.25 723.49,784.76 725.44,784.28 727.38,783.80 729.32,783.32 731.27,782.83 733.21,782.34 735.14,781.82 737.06,781.25 738.96,780.63 740.85,779.98 742.74,779.32 744.63,778.65 746.52,777.99 748.41,777.32 750.30,776.66 752.19,776.00 754.08,775.36 755.99,774.75 757.91,774.16 759.83,773.60 761.75,773.03 763.66,772.44 765.55,771.80 767.43,771.10 769.29,770.37 771.15,769.62 773.01,768.87 774.87,768.13 776.74,767.42 778.63,766.78 780.54,766.21 782.48,765.71 784.42,765.23 786.37,764.75 788.31,764.27 790.25,763.77 792.18,763.23 794.09,762.64 795.99,762.01 797.89,761.37 799.78,760.72 801.65,760.03 803.46,759.22 805.19,758.26 806.83,757.14 808.45,755.96 810.05,754.76 811.66,753.57 813.27,752.38 814.88,751.19 816.50,750.01 818.11,748.82 819.73,747.64 821.34,746.46 822.96,745.27 824.57,744.09 826.19,742.91 827.80,741.72 829.43,740.56 831.09,739.46 832.82,738.48 834.62,737.64 836.47,736.88 838.33,736.15 840.19,735.42 842.05,734.68 843.92,733.94 845.78,733.20 847.63,732.45 849.49,731.69 851.34,730.93 853.19,730.16 855.02,729.37 856.79,728.49 858.43,727.42 859.92,726.14 861.33,724.74 862.71,723.29 864.08,721.83 865.48,720.40 866.94,719.05 868.49,717.80 870.11,716.64 871.76,715.51 873.42,714.39 875.07,713.25 876.68,712.06 878.23,710.81 879.73,709.49 881.20,708.14 882.61,706.73 883.91,705.23 885.09,703.62 886.20,701.96 887.27,700.27 888.34,698.58 889.40,696.88 890.43,695.16 891.41,693.42 892.35,691.66 893.29,689.89 894.23,688.12 895.19,686.36 896.19,684.63 897.23,682.92 897.50,682.50 L896.10,681.09 894.73,679.65 893.41,678.17 892.15,676.63 890.99,675.04 889.90,673.38 888.92,671.67 888.01,669.91 887.19,668.10 886.42,666.26 885.67,664.41 884.94,662.55 884.20,660.69 883.45,658.84 882.66,657.01 881.83,655.19 880.95,653.41 880.01,651.66 879.00,649.95 877.92,648.27 876.79,646.63 875.61,645.02 874.39,643.44 873.13,641.89 871.84,640.37 870.52,638.86 869.20,637.36 867.86,635.87 866.52,634.39 865.18,632.90 863.83,631.42 862.49,629.93 861.15,628.44 859.81,626.95 858.48,625.46 857.15,623.96 855.83,622.46 854.51,620.95 853.19,619.45 851.87,617.94 850.55,616.45 849.21,614.96 847.85,613.48 846.49,612.02 845.11,610.57 843.72,609.13 842.33,607.69 840.94,606.25 839.56,604.80 838.18,603.35 836.82,601.88 835.45,600.42 834.10,598.95 832.74,597.47 831.39,595.99 830.04,594.51 828.70,593.03 827.36,591.54 826.03,590.05 824.72,588.54 823.43,587.01 822.18,585.46 820.98,583.87 819.86,582.24 818.82,580.56 817.88,578.83 817.06,577.04 816.33,575.20 815.70,573.33 815.15,571.42 814.67,569.49 814.25,567.54 813.89,565.57 813.57,563.60 813.28,561.62 813.01,559.64 812.75,557.66 812.50,555.67 812.26,553.68 812.03,551.70 811.80,549.71 811.59,547.72 811.40,545.73 811.24,543.73 811.10,541.74 811.00,539.74 810.92,537.74 810.86,535.74 810.81,533.74 810.78,531.74 810.76,529.74 810.75,527.74 810.74,525.73 810.74,523.73 810.74,521.73 810.73,519.73 810.70,517.73 810.65,515.73 810.57,513.73 810.46,511.73 810.34,509.74 810.19,507.74 810.04,505.75 809.88,503.75 809.71,501.76 809.55,499.76 809.37,497.77 809.19,495.77 808.99,493.78 808.76,491.80 808.49,489.82 808.19,487.84 807.86,485.87 807.50,483.90 807.13,481.94 806.74,479.97 806.35,478.01 805.96,476.05 805.56,474.08 805.17,472.12 804.76,470.16 804.35,468.20 803.93,466.25 803.49,464.29 803.04,462.34 802.57,460.40 802.10,458.45 801.62,456.51 801.14,454.57 800.67,452.62 800.21,450.67 799.77,448.72 799.34,446.77 798.92,444.81 798.52,442.85 798.13,440.88 797.74,438.92 797.35,436.96 796.96,434.99 796.57,433.03 796.19,431.06 795.80,429.10 795.41,427.14 795.03,425.17 794.64,423.21 794.26,421.24 793.87,419.28 793.49,417.31 793.11,415.35 792.74,413.38 792.37,411.41 792.01,409.44 791.66,407.47 791.31,405.50 790.97,403.53 790.63,401.56 790.29,399.58 789.96,397.61 789.63,395.63 789.31,393.66 788.99,391.68 788.68,389.70 788.38,387.72 788.08,385.75 787.78,383.77 787.49,381.79 787.21,379.80 786.93,377.82 786.67,375.84 786.41,373.85 786.15,371.87 785.90,369.88 785.65,367.90 785.40,365.91 785.15,363.92 784.92,361.93 784.70,359.95 784.49,357.96 784.29,355.96 784.11,353.97 783.92,351.98 783.74,349.98 783.55,347.99 783.36,346.00 783.16,344.01 782.96,342.01 782.76,340.02 782.55,338.03 782.36,336.04 782.16,334.05 781.98,332.05 781.80,330.06 781.64,328.06 781.48,326.07 781.32,324.07 781.17,322.08 781.01,320.08 780.86,318.09 780.70,316.09 780.53,314.10 780.36,312.10 780.18,310.11 780.00,308.11 779.82,306.12 779.63,304.13 779.45,302.13 779.26,300.14 779.09,298.15 778.92,296.15 778.79,294.16 778.69,292.17 778.63,290.17 778.63,288.18 778.68,286.18 778.77,284.18 778.87,282.19 778.98,280.19 779.07,278.19 779.13,276.20 779.15,274.20 779.13,272.20 779.07,270.20 778.99,268.21 778.89,266.21 778.79,264.21 778.69,262.21 778.60,260.21 778.51,258.21 778.43,256.21 778.35,254.21 778.29,252.21 778.23,250.21 778.18,248.21 778.14,246.21 778.13,244.20 778.13,242.20 778.15,240.20 778.19,238.20 778.24,236.20 778.31,234.20 778.38,232.20 778.48,230.20 778.59,228.20 778.73,226.21 778.88,224.21 779.06,222.22 779.24,220.23 779.41,218.23 779.58,216.24 779.72,214.25 779.82,212.25 779.88,210.26 779.90,208.26 779.89,206.26 779.85,204.26 779.81,202.26 779.77,200.26 779.74,198.26 779.73,196.25 779.73,194.25 779.76,192.25 779.80,190.25 779.85,188.25 779.92,186.25 780.01,184.25 780.11,182.25 780.24,180.26 780.40,178.26 780.58,176.27 780.80,174.28 781.05,172.30 781.33,170.32 781.65,168.35 782.00,166.38 782.38,164.42 782.80,162.46 783.25,160.51 783.72,158.57 784.22,156.64 784.72,154.70 785.20,152.77 785.64,150.83 786.02,148.87 786.32,146.91 786.56,144.93 786.77,142.95 786.95,140.96 787.14,138.97 787.36,136.99 787.60,135.00 787.89,133.03 788.21,131.05 788.57,129.09 788.97,127.13 789.40,125.18 789.86,123.23 790.35,121.29 790.84,119.35 791.32,117.41 791.79,115.47 792.23,113.52 792.63,111.56 792.99,109.59 793.31,107.62 793.61,105.65 793.90,103.67 794.19,101.68 794.48,99.71 794.80,97.73 795.14,95.76 795.51,93.79 795.90,91.83 796.32,89.88 796.74,87.92 797.17,85.97 797.50,84.50" fill="none" stroke="#0000ff" stroke-width="4.0" stroke-linejoin="round" stroke-linecap="round"/>
<path d="M253.00,820.70 L255.00,820.71 257.00,820.71 259.01,820.72 261.01,820.72 263.01,820.73 265.01,820.73 267.01,820.74 269.01,820.74 271.02,820.75 273.02,820.76 275.02,820.76 277.02,820.77 279.02,820.77 281.03,820.78 283.03,820.78 285.03,820.79 287.03,820.79 289.03,820.80 291.04,820.80 293.04,820.81 295.04,820.82 297.04,820.82 299.04,820.83 301.04,820.83 303.05,820.84 305.05,820.84 307.05,820.85 309.05,820.85 311.05,820.86 313.06,820.87 315.06,820.87 317.06,820.88 319.06,820.88 321.06,820.89 323.07,820.89 325.07,820.90 327.07,820.90 329.07,820.91 331.07,820.91 333.07,820.92 335.08,820.93 337.08,820.93 339.08,820.94 341.08,820.94 343.08,820.95 345.09,820.95 347.09,820.96 349.09,820.96 351.09,820.97 353.09,820.98 355.10,820.98 357.10,820.99 359.10,820.99 361.10,821.00 363.10,821.01 365.10,821.02 367.11,821.03 369.11,821.05 371.11,821.06 373.11,821.07 375.11,821.08 377.12,821.10 379.12,821.11 381.12,821.12 383.12,821.14 385.12,821.15 387.13,821.16 389.13,821.17 391.13,821.19 393.13,821.20 395.13,821.21 397.13,821.23 399.14,821.24 401.14,821.25 403.14,821.26 405.14,821.28 407.14,821.29 409.15,821.30 411.15,821.32 413.15,821.33 415.15,821.34 417.15,821.35 419.15,821.37 421.16,821.38 423.16,821.39 425.16,821.40 427.16,821.42 429.16,821.43 431.17,821.44 433.17,821.46 435.17,821.47 437.17,821.48 439.17,821.49 441.17,821.51 443.18,821.52 445.18,821.53 447.18,821.54 449.18,821.55 451.18,821.56 453.19,821.57 455.19,821.58 457.19,821.59 459.19,821.60 461.19,821.61 463.20,821.62 465.20,821.63 467.20,821.64 469.20,821.65 471.20,821.66 473.20,821.67 475.21,821.68 477.21,821.69 479.21,821.70 481.21,821.71 483.21,821.72 485.22,821.73 487.22,821.74 489.22,821.75 491.22,821.76 493.22,821.77 495.22,821.78 497.23,821.78 499.23,821.79 501.23,821.78 503.23,821.77 505.23,821.75 507.24,821.73 509.24,821.71 511.24,821.69 513.24,821.67 515.24,821.65 517.24,821.63 519.25,821.61 521.25,821.59 523.25,821.57 525.25,821.55 527.25,821.53 529.26,821.51 531.26,821.49 533.26,821.47 535.26,821.45 537.26,821.43 539.26,821.41 541.27,821.39 543.27,821.37 545.27,821.35 547.27,821.33 549.27,821.31 551.27,821.29 553.28,821.27 555.28,821.25 557.28,821.22 559.28,821.20 561.28,821.16 563.28,821.11 565.29,821.05 567.29,821.00 569.29,820.95 571.29,820.89 573.29,820.84 575.29,820.78 577.29,820.73 579.29,820.67 581.29,820.62 583.30,820.56 585.30,820.51 587.30,820.45 589.30,820.40 591.30,820.34 593.30,820.29 595.30,820.23 597.30,820.18 599.30,820.12 601.31,820.05 603.30,819.97 605.30,819.84 607.30,819.69 609.29,819.53 611.29,819.36 613.28,819.19 615.28,819.02 617.27,818.85 619.27,818.68 621.26,818.51 623.26,818.34 625.25,818.17 627.24,818.00 629.24,817.83 631.23,817.66 633.23,817.48 635.22,817.27 637.20,817.00 639.17,816.66 641.13,816.28 643.09,815.89 645.06,815.49 647.02,815.10 648.98,814.70 650.94,814.30 652.91,813.91 654.86,813.50 656.81,813.05 658.73,812.51 660.62,811.87 662.49,811.15 664.34,810.41 666.20,809.66 668.06,808.92 669.92,808.17 671.77,807.43 673.63,806.68 675.49,805.93 677.34,805.17 679.17,804.36 680.95,803.48 682.70,802.51 684.42,801.49 686.13,800.45 687.84,799.41 689.55,798.37 691.26,797.32 692.96,796.27 694.65,795.20 696.33,794.10 698.00,793.00 699.66,791.89 701.33,790.77 702.99,789.66 704.65,788.54 706.29,787.40 707.87,786.19 709.38,784.89 710.83,783.51 712.26,782.11 713.68,780.70 715.10,779.29 716.51,777.88 717.94,776.47 719.38,775.08 720.83,773.70 722.29,772.33 723.76,770.98 725.24,769.62 726.71,768.26 728.18,766.91 729.68,765.59 731.24,764.37 732.90,763.29 734.66,762.35 736.45,761.48 738.26,760.63 740.08,759.78 741.89,758.93 743.70,758.08 745.51,757.22 747.31,756.34 749.10,755.45 750.89,754.55 752.68,753.66 754.47,752.76 756.26,751.87 758.05,750.97 759.84,750.08 761.63,749.18 763.42,748.29 765.21,747.39 767.00,746.49 768.79,745.59 770.58,744.69 772.37,743.79 774.16,742.90 775.95,742.00 777.73,741.10 779.52,740.20 781.31,739.30 783.10,738.40 783.10,738.40 L908.90,672.20 L908.66,670.21 908.43,668.22 908.20,666.24 908.00,664.25 907.84,662.25 907.71,660.26 907.64,658.27 907.61,656.27 907.61,654.27 907.65,652.27 907.71,650.27 907.79,648.27 907.90,646.27 908.02,644.27 908.16,642.28 908.31,640.28 908.49,638.29 908.68,636.29 908.89,634.30 909.13,632.32 909.39,630.33 909.68,628.35 909.98,626.37 910.30,624.40 910.64,622.42 910.99,620.45 911.35,618.48 911.73,616.52 912.12,614.56 912.53,612.60 912.97,610.65 913.43,608.71 913.95,606.78 914.53,604.87 915.17,602.99 915.87,601.12 916.63,599.28 917.44,597.45 918.28,595.65 919.17,593.86 920.11,592.10 921.10,590.36 922.12,588.65 923.19,586.96 924.27,585.28 925.38,583.61 926.49,581.95 927.62,580.29 928.75,578.64 929.89,577.00 931.05,575.36 932.21,573.73 933.38,572.10 934.55,570.48 935.72,568.85 936.89,567.23 938.06,565.61 939.23,563.98 940.40,562.35 941.56,560.72 942.73,559.09 943.89,557.46 945.04,555.83 946.19,554.18 947.32,552.53 948.44,550.88 949.55,549.21 950.65,547.54 951.74,545.86 952.83,544.17 953.90,542.48 954.96,540.78 956.00,539.07 957.02,537.35 958.03,535.62 959.02,533.89 960.00,532.14 960.97,530.39 961.94,528.64 962.90,526.88 963.85,525.12 964.80,523.35 965.73,521.58 966.65,519.81 967.57,518.02 968.47,516.24 969.37,514.45 970.26,512.65 971.14,510.86 972.02,509.06 972.87,507.25 973.71,505.43 974.53,503.60 975.33,501.77 976.11,499.93 976.89,498.08 977.66,496.23 978.44,494.39 979.21,492.54 979.98,490.69 980.75,488.84 981.53,487.00 982.31,485.15 983.08,483.31 983.86,481.46 984.63,479.61 985.38,477.76 986.12,475.90 986.84,474.03 987.54,472.16 988.22,470.27 988.87,468.38 989.52,466.49 990.15,464.59 990.78,462.69 991.42,460.79 992.05,458.89 992.68,456.99 993.31,455.09 993.94,453.19 994.58,451.29 995.21,449.39 995.85,447.49 996.48,445.59 997.12,443.69 997.75,441.79 998.37,439.89 998.98,437.98 999.59,436.07 1000.19,434.16 1000.78,432.25 1001.37,430.33 1001.95,428.42 1002.53,426.50 1003.11,424.59 1003.70,422.67 1004.28,420.75 1004.86,418.84 1005.45,416.92 1006.04,415.01 1006.63,413.10 1007.22,411.18 1007.81,409.27 1008.40,407.36 1009.00,405.45 1009.60,403.54 1010.21,401.63 1010.82,399.72 1011.44,397.82 1012.07,395.92 1012.70,394.01 1013.33,392.11 1013.96,390.21 1014.59,388.31 1015.21,386.41 1015.82,384.50 1016.43,382.59 1017.01,380.68 1017.58,378.76 1018.14,376.84 1018.69,374.91 1019.23,372.98 1019.76,371.06 1020.30,369.13 1020.83,367.20 1021.37,365.27 1021.90,363.34 1022.44,361.41 1022.98,359.48 1023.53,357.55 1024.08,355.63 1024.63,353.70 1025.19,351.78 1025.75,349.86 1026.31,347.94 1026.87,346.01 1027.43,344.09 1028.00,342.17 1028.56,340.25 1029.11,338.32 1029.67,336.40 1030.22,334.47 1030.76,332.55 1031.30,330.62 1031.84,328.69 1032.38,326.76 1032.91,324.83 1033.44,322.90 1033.98,320.97 1034.51,319.04 1035.04,317.11 1035.57,315.18 1036.09,313.24 1036.62,311.31 1037.14,309.38 1037.65,307.44 1038.16,305.51 1038.67,303.57 1039.18,301.63 1039.69,299.70 1040.20,297.76 1040.72,295.83 1041.25,293.89 1041.78,291.96 1042.32,290.04 1042.87,288.11 1043.41,286.18 1043.96,284.26 1044.52,282.33 1045.07,280.41 1045.63,278.49 1046.19,276.56 1046.76,274.64 1047.33,272.72 1047.90,270.80 1048.46,268.88 1049.03,266.96 1049.58,265.04 1050.13,263.11 1050.68,261.19 1051.22,259.26 1051.75,257.33 1052.28,255.40 1052.82,253.47 1053.35,251.54 1053.90,249.61 1054.45,247.68 1055.00,245.76 1055.57,243.84 1056.13,241.92 1056.69,240.00 1057.25,238.07 1057.80,236.15 1058.34,234.22 1058.87,232.29 1059.39,230.35 1059.90,228.42 1060.42,226.48 1060.93,224.55 1061.44,222.61 1061.95,220.68 1062.46,218.74 1062.97,216.80 1063.48,214.87 1063.98,212.93 1064.49,210.99 1064.98,209.05 1065.47,207.11 1065.95,205.16 1066.42,203.22 1066.89,201.27 1067.34,199.32 1067.80,197.37 1068.24,195.42 1068.67,193.46 1069.10,191.51 1069.51,189.55 1069.92,187.59 1070.32,185.63 1070.72,183.66 1071.11,181.70 1071.50,179.73 1071.89,177.77 1072.28,175.81 1072.66,173.84 1073.05,171.88 1073.43,169.91 1073.82,167.94 1074.20,165.98 1074.59,164.02 1074.98,162.05 1075.37,160.09 1075.76,158.12 1076.16,156.16 1076.55,154.20 1076.94,152.23 1077.33,150.27 1077.71,148.30 1078.09,146.34 1078.47,144.37 1078.85,142.40 1079.22,140.44 1079.59,138.47 1079.95,136.50 1080.31,134.53 1080.66,132.56 1081.00,130.58 1081.34,128.61 1081.68,126.64 1082.01,124.66 1082.34,122.69 1082.67,120.71 1082.99,118.74 1083.32,116.76 1083.63,114.78 1083.95,112.80 1084.26,110.83 1084.56,108.85 1084.85,106.87 1085.14,104.88 1085.42,102.90 1085.69,100.92 1085.94,98.93 1086.19,96.94 1086.42,94.96 1086.63,92.97 1086.84,90.97 1087.04,88.98 1087.23,86.99 1087.41,84.99 1087.60,83.00 1087.60,83.00" fill="none" stroke="#ee0000" stroke-width="4.0" stroke-linejoin="round" stroke-linecap="round"/>
<line x1="780.6" y1="275" x2="820" y2="251.5" stroke="#0000ff" stroke-width="4.2" stroke-linecap="round"/>
<polygon points="833,243 812.5,246.5 822.5,260.5" fill="#0000ff" stroke="#0000ff" stroke-width="1.5" stroke-linejoin="round"/>
<line x1="862" y1="653.5" x2="826" y2="664.5" stroke="#e38a1c" stroke-width="4.2" stroke-linecap="round"/>
<polygon points="809.4,668.8 823.7,655 829.4,672.5" fill="#e38a1c" stroke="#e38a1c" stroke-width="1.5" stroke-linejoin="round"/>
<text transform="translate(835.5,250.5) scale(1,1.07)" class="cl" fill="#0000ff">35%</text>
<text transform="translate(836.5,546) scale(1,1.07)" class="cl" fill="#118011">60%</text>
<text transform="translate(729,694.5) scale(1,1.07)" class="cl" fill="#e38a1c">55%</text>
<text transform="translate(1077,204.8) scale(1,1.07)" class="cl" fill="#ee0000">70%</text>
</svg>
</body></html>
